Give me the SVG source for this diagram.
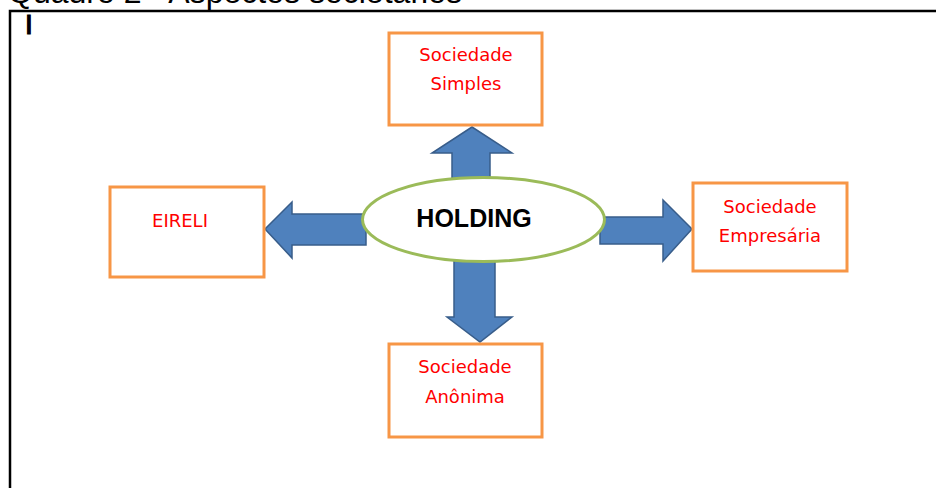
<svg xmlns="http://www.w3.org/2000/svg" width="936" height="488" viewBox="0 0 936 488">
  <style>
    .box { fill: #ffffff; stroke: #F79646; stroke-width: 3; }
    .lbl { font-family: "DejaVu Sans", "Liberation Sans", sans-serif; font-size: 18px; fill: #FF0000; text-anchor: middle; }
    .arrow { fill: #4F81BD; stroke: #385D8A; stroke-width: 1.5; stroke-linejoin: miter; }
    .frame { stroke: #000000; stroke-width: 2.5; fill: none; }
  </style>

  <rect width="936" height="488" fill="#ffffff"/>

  <!-- caption, clipped by the top of the page -->
  <text x="8" y="3" font-family="Liberation Sans, Arial, sans-serif" font-size="31" fill="#000000" textLength="454" lengthAdjust="spacingAndGlyphs">Quadro 2 - Aspectos societários</text>

  <!-- table frame -->
  <path class="frame" d="M10,488 V11 H936"/>
  <text x="25" y="34" font-family="Liberation Sans, Arial, sans-serif" font-size="28" fill="#000000" stroke="#000000" stroke-width="1.2">I</text>

  <!-- block arrows from the centre to each company type -->
  <g id="connectors">
    <polygon class="arrow" points="452,185 452,153 432,153 472,127 512,153 490,153 490,185"/>
    <polygon class="arrow" points="366,214 292,214 292,202 265,229 292,258 292,245 366,245"/>
    <polygon class="arrow" points="600,217 663,217 663,200 692,229 663,261 663,244 600,244"/>
    <polygon class="arrow" points="454,255 454,317 447,317 480,342 512,317 495,317 495,255"/>
  </g>

  <g id="holding">
    <ellipse cx="483.5" cy="219.5" rx="121" ry="42" fill="#ffffff" stroke="#9BBB59" stroke-width="3"/>
    <text x="474" y="227" font-family="Liberation Sans, Arial, sans-serif" font-size="25" font-weight="bold" fill="#000000" text-anchor="middle">HOLDING</text>
  </g>

  <g id="sociedade-simples">
    <rect class="box" x="389" y="33" width="153" height="92"/>
    <text class="lbl" x="466" y="61">Sociedade</text>
    <text class="lbl" x="466" y="90">Simples</text>
  </g>

  <g id="eireli">
    <rect class="box" x="110" y="187" width="154" height="90"/>
    <text class="lbl" x="180" y="227">EIRELI</text>
  </g>

  <g id="sociedade-empresaria">
    <rect class="box" x="693" y="183" width="154" height="88"/>
    <text class="lbl" x="770" y="213">Sociedade</text>
    <text class="lbl" x="770" y="242">Empresária</text>
  </g>

  <g id="sociedade-anonima">
    <rect class="box" x="389" y="344" width="153" height="93"/>
    <text class="lbl" x="465" y="373">Sociedade</text>
    <text class="lbl" x="465" y="403">Anônima</text>
  </g>
</svg>
